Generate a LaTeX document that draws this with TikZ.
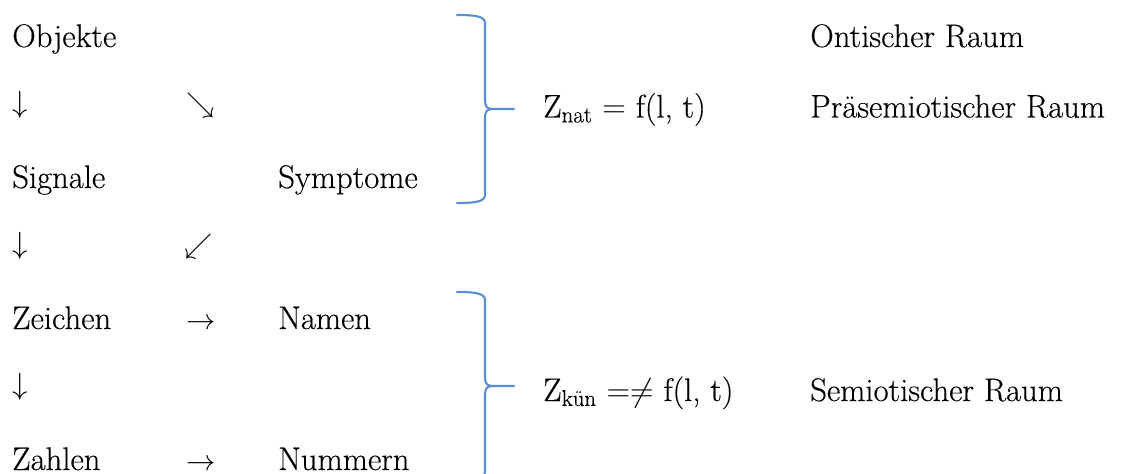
\RequirePackage{fix-cm}
\documentclass[tikz,border=0pt]{standalone}
\usepackage{fontspec}
\setmainfont{Latin Modern Roman}[UprightFeatures={FakeBold=0.3}]
\usepackage{tikz}
\usetikzlibrary{positioning}
\definecolor{braceBlue}{HTML}{5B8FD5}
% brace opening to the left, #1 = y of its tip
\newcommand{\raumklammer}[1]{%
  \draw[klammer] (457,#1-94) .. controls (474,#1-94) and (485,#1-93) .. (485,#1-86)
    -- (485,#1-9) .. controls (485,#1-3) and (487,#1) .. (492,#1)
    .. controls (487,#1) and (485,#1+3) .. (485,#1+9)
    -- (485,#1+86) .. controls (485,#1+93) and (474,#1+94) .. (457,#1+94)
    (492,#1) -- (514,#1);}

\begin{document}
\begin{tikzpicture}[
  x=0.75pt, y=-0.75pt,
  node distance=52.875pt,
  every node/.style={inner sep=0pt, anchor=base west, font=\fontsize{24.5}{29}\selectfont},
  pfeil/.style={font=\fontsize{23}{27}\selectfont},
  schraeg/.style={font=\fontsize{21}{25}\selectfont},
  quer/.style={font=\fontsize{22}{26}\selectfont},
  klammer/.style={draw=braceBlue, line width=1.6pt, line cap=round, line join=round}
]
  \clip (0,0) rectangle (1148,474);
  % left column
  \node (objekte) at (12,47) {Objekte};
  \node[pfeil, below=of objekte.base west, anchor=base west] (abA) {\raisebox{.15em}{$\downarrow$}};
  \node[below=of abA.base west, anchor=base west] (signale) {Signale};
  \node[pfeil, below=of signale.base west, anchor=base west] (abB) {\raisebox{.15em}{$\downarrow$}};
  \node[below=of abB.base west, anchor=base west] (zeichen) {Zeichen};
  \node[pfeil, below=of zeichen.base west, anchor=base west] (abC) {\raisebox{.15em}{$\downarrow$}};
  \node[below=of abC.base west, anchor=base west] (zahlen) {Zahlen};
  % middle columns
  \node[schraeg] (schraegA) at (186,117.5) {\raisebox{.17em}{$\searrow$}};
  \node (symptome) at (278,188) {Symptome};
  \node[schraeg] (schraegB) at (184,258.5) {\raisebox{.17em}{$\swarrow$}};
  \node[quer] (rechtsA) at (186,329) {$\rightarrow$};
  \node (namen) at (278,329) {Namen};
  \node[quer] (rechtsB) at (186,470) {$\rightarrow$};
  \node (nummern) at (278,470) {Nummern};
  % braces and formulas
  \raumklammer{109}
  \raumklammer{386}
  \node (znat) at (543,117.5) {Z\textsubscript{nat} $=$ f(l, t)};
  \node (zkuen) at (543,401) {Z\textsubscript{kün} $=\neq$ f(l, t)};
  % spaces
  \node (ontisch) at (810,47) {Ontischer Raum};
  \node (praesem) at (810,117.5) {Präsemiotischer Raum};
  \node (semiot) at (810,401) {Semiotischer Raum};
\end{tikzpicture}
\end{document}
